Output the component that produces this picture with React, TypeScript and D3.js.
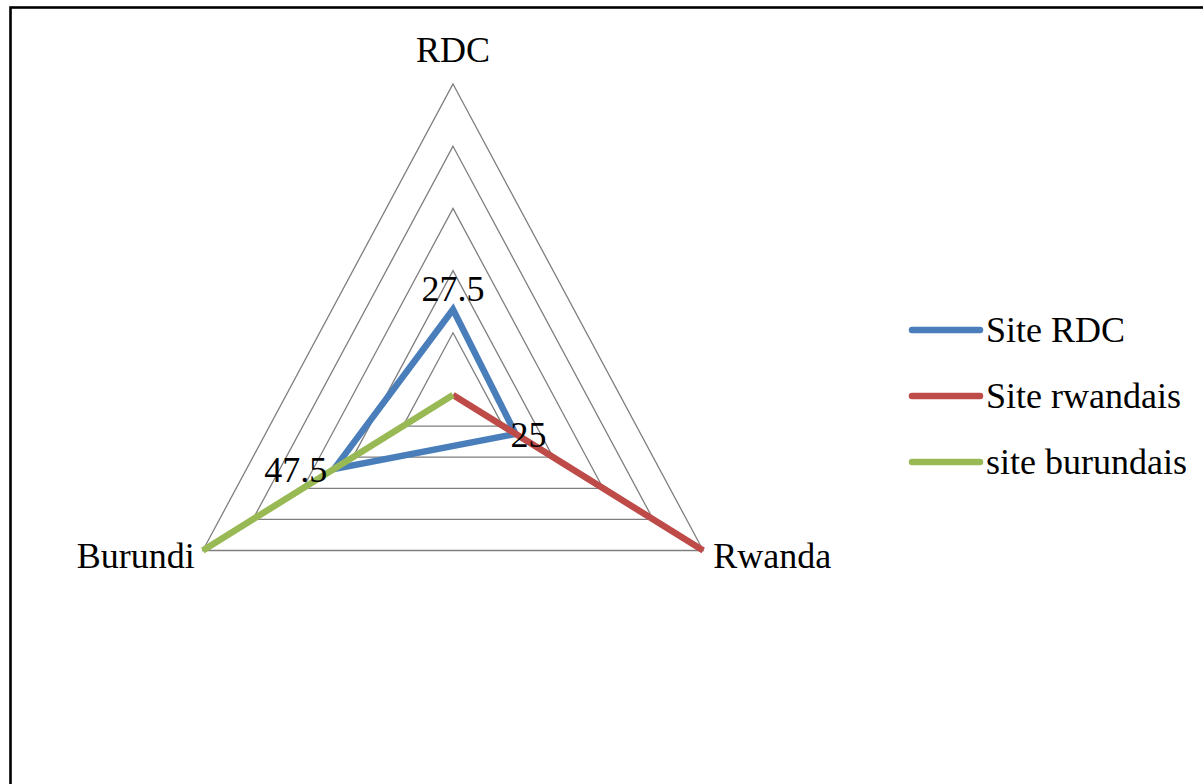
import * as d3 from 'd3';
import React from 'react';

// axes of the radar, clockwise from the top
const categories = ['RDC', 'Rwanda', 'Burundi'];
const gridLevels = [20, 40, 60, 80, 100];

const seriesNames = ['Site RDC', 'Site rwandais', 'site burundais'];
const siteRdcValues = [27.5, 25, 47.5];
const siteRwandaisValues = [0, 100, 0];
const siteBurundaisValues = [0, 0, 100];
const seriesColors = ['#4A7EBB', '#BE4B48', '#98B954'];

const width = 1203;
const height = 784;
const cx = 453;
const cy = 395;
const sx = 0.929; // the picture is a bit squeezed horizontally
const fontFamily = "'Liberation Serif', Tinos, 'Times New Roman', FreeSerif, monospace";

const r = d3.scaleLinear().domain([0, 100]).range([0, 311]);
const angle = d3
  .scalePoint<string>()
  .domain(categories)
  .range([-Math.PI / 2, -Math.PI / 2 + (2 * Math.PI * 2) / 3]);

const pt = (cat: string, v: number): [number, number] => {
  const a = angle(cat)!;
  return [cx + r(v) * Math.cos(a) * sx, cy + r(v) * Math.sin(a)];
};

const line = d3.line<[number, number]>().curve(d3.curveLinearClosed);

function Label({ x, y, anchor, children }: { x: number; y: number; anchor: string; children: React.ReactNode }) {
  return (
    <text
      x={x}
      y={y}
      textAnchor={anchor as any}
      fontFamily={fontFamily}
      fontSize={36}
      style={{ fontFamily: fontFamily, fontSize: '36px' }}
    >
      {children}
    </text>
  );
}

export default function App() {
  const series = [siteRdcValues, siteRwandaisValues, siteBurundaisValues];
  const top = pt('RDC', 100);
  const right = pt('Rwanda', 100);
  const left = pt('Burundi', 100);
  const p0 = pt('RDC', siteRdcValues[0]);
  const p1 = pt('Rwanda', siteRdcValues[1]);
  const p2 = pt('Burundi', siteRdcValues[2]);
  const legendY = [330, 396, 462];

  return (
    <svg
      width={width}
      height={height}
      style={{ position: 'absolute', left: 0, top: 0, fontFamily: fontFamily }}
    >
      <rect width={width} height={height} fill="#fff" />
      {/* chart border, runs off the right and bottom edges */}
      <rect x={10.5} y={7.5} width={1400} height={1000} fill="none" stroke="#000" strokeWidth={2.6} />

      {/* grid triangles */}
      <g>
        {gridLevels.map((lv) => (
          <path
            key={lv}
            d={line(categories.map((c) => pt(c, lv))) || ''}
            fill="none"
            stroke="#7f7f7f"
            strokeWidth={1.3}
          />
        ))}
      </g>

      {/* axis labels */}
      <Label x={top[0]} y={62} anchor="middle">RDC</Label>
      <Label x={right[0] + 10} y={568} anchor="start">Rwanda</Label>
      <Label x={left[0] - 8} y={568} anchor="end">Burundi</Label>

      {/* series */}
      {series.map((vals, i) => (
        <path
          key={seriesNames[i]}
          d={line(categories.map((c, j) => pt(c, vals[j]))) || ''}
          fill="none"
          stroke={seriesColors[i]}
          strokeWidth={6.5}
          strokeLinejoin="miter"
        />
      ))}

      {/* data labels of Site RDC */}
      <Label x={p0[0]} y={p0[1] - 8} anchor="middle">{String(siteRdcValues[0])}</Label>
      <Label x={p1[0] - 5} y={p1[1] + 13} anchor="start">{String(siteRdcValues[1])}</Label>
      <Label x={p2[0] - 7} y={p2[1] + 13} anchor="end">{String(siteRdcValues[2])}</Label>

      {/* legend */}
      {seriesNames.map((name, i) => (
        <g key={name}>
          <line
            x1={912}
            x2={980}
            y1={legendY[i]}
            y2={legendY[i]}
            stroke={seriesColors[i]}
            strokeWidth={6.5}
            strokeLinecap="round"
          />
          <Label x={986} y={legendY[i] + 12} anchor="start">{name}</Label>
        </g>
      ))}
    </svg>
  );
}
